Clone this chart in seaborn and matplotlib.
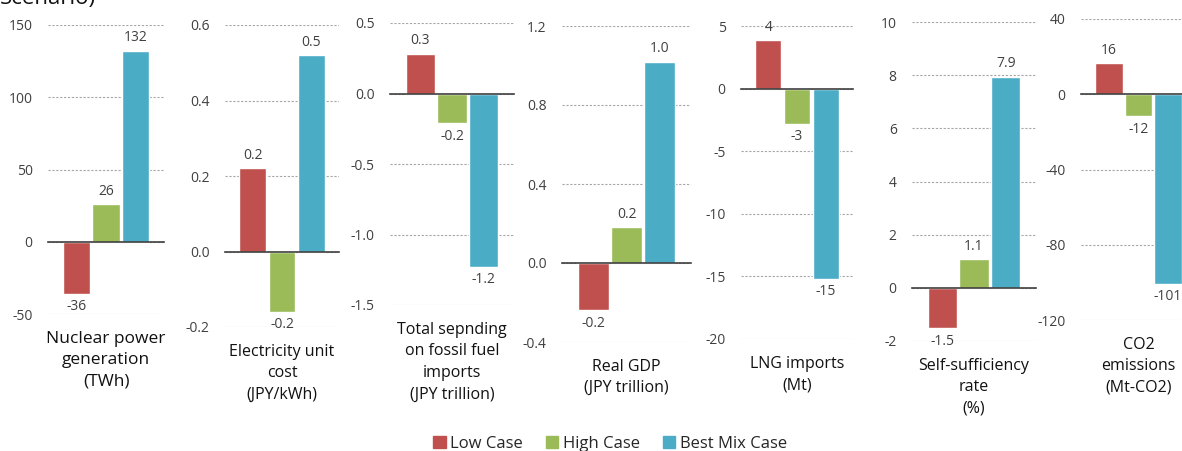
import matplotlib
matplotlib.use('Agg')
import matplotlib.pyplot as plt
from matplotlib.patches import Patch
from matplotlib.ticker import FormatStrFormatter
import seaborn as sns
import pandas as pd

# indicators (one small panel each) and the three scenario cases
indicators = ['Nuclear power\ngeneration\n(TWh)',
              'Electricity unit\ncost\n(JPY/kWh)',
              'Total sepnding\non fossil fuel\nimports\n(JPY trillion)',
              'Real GDP\n(JPY trillion)',
              'LNG imports\n(Mt)',
              'Self-sufficiency\nrate\n(%)',
              'CO2\nemissions\n(Mt-CO2)']
cases = ['Low Case', 'High Case', 'Best Mix Case']

low_case      = [-36, 0.22, 0.28, -0.24, 3.85, -1.52, 16.4]
high_case     = [26, -0.16, -0.21, 0.18, -2.8, 1.07, -11.6]
best_mix_case = [132, 0.52, -1.23, 1.02, -15.2, 7.93, -100.6]

y_ticks = [[-50, 0, 50, 100, 150],
           [-0.2, 0.0, 0.2, 0.4, 0.6],
           [-1.5, -1.0, -0.5, 0.0, 0.5],
           [-0.4, 0.0, 0.4, 0.8, 1.2],
           [-20, -15, -10, -5, 0, 5],
           [-2, 0, 2, 4, 6, 8, 10],
           [-120, -80, -40, 0, 40]]
tick_fmt  = ['%.0f', '%.1f', '%.1f', '%.1f', '%.0f', '%.0f', '%.0f']
value_fmt = ['%.0f', '%.1f', '%.1f', '%.1f', '%.0f', '%.1f', '%.0f']

COLORS = ['#C0504D', '#9BBB59', '#4BACC6']
TXT = '#404040'

df = pd.DataFrame({
    'indicator': indicators * 3,
    'case': [c for c in cases for _ in indicators],
    'value': low_case + high_case + best_mix_case,
})

sns.set_style('white')
plt.rcParams['font.family'] = ['Open Sans', 'DejaVu Sans']
plt.rcParams['axes.unicode_minus'] = False

W, H = 1182, 451
fig = plt.figure(figsize=(W / 100, H / 100), dpi=100)

# panel boxes in pixels: left, right, top, bottom
boxes = [(48, 164, 25, 314), (225, 339, 25, 327), (390, 514, 23, 305),
         (562, 691, 26, 342), (741, 853, 26, 339), (912, 1036, 22, 341),
         (1081, 1196, 19, 320)]

for i, name in enumerate(indicators):
    l, r, t, b = boxes[i]
    ax = fig.add_axes([l / W, 1 - b / H, (r - l) / W, (b - t) / H])
    sub = df[df['indicator'] == name]
    sns.barplot(data=sub, x='indicator', y='value', hue='case',
                hue_order=cases, palette=COLORS, saturation=1,
                width=0.77, gap=0.08, errorbar=None, legend=False, ax=ax)

    ax.set_xlim(-0.5, 0.5)
    ax.set_ylim(y_ticks[i][0], y_ticks[i][-1])
    ax.set_yticks(y_ticks[i])
    ax.yaxis.set_major_formatter(FormatStrFormatter(tick_fmt[i]))
    ax.yaxis.grid(True, ls=(0, (2, 1.5)), color='#a6a6a6', lw=0.8)
    ax.set_axisbelow(True)
    ax.set_xlabel('')
    ax.set_ylabel('')

    for s in ['top', 'right', 'left']:
        ax.spines[s].set_visible(False)
    ax.spines['bottom'].set_position(('data', 0))
    ax.spines['bottom'].set_color('#3f3f3f')
    ax.spines['bottom'].set_linewidth(1.2)
    ax.set_xticks([-0.5, 0.5])
    ax.set_xticklabels(['', ''])
    ax.tick_params(axis='x', direction='out', length=4.5, width=1.2,
                   color='#3f3f3f')
    ax.tick_params(axis='y', length=0, pad=11, labelsize=10,
                   labelcolor=TXT)

    for cont in ax.containers:
        ax.bar_label(cont, fmt=value_fmt[i], padding=4, fontsize=10,
                     color=TXT)

    ax.annotate(name, xy=(0.5, 0), xycoords='axes fraction',
                xytext=(0, -12), textcoords='offset points',
                ha='center', va='top', fontsize=12.5 if i == 0 else 11.5,
                linespacing=1.47, color='#111111')

handles = [Patch(color=c) for c in COLORS]
fig.legend(handles, cases, loc='center', bbox_to_anchor=(610 / W, 1 - 444 / H),
           ncol=3, frameon=False, fontsize=12, handlelength=0.75,
           handleheight=0.75, handletextpad=0.25, columnspacing=1.4)

# title is cut off at the top edge in the original
fig.text(0.0, 1 - 4 / H, 'Scenario)', fontsize=16, ha='left',
         va='baseline', color='#111111')

plt.savefig('out.png', dpi=100)
plt.close()
